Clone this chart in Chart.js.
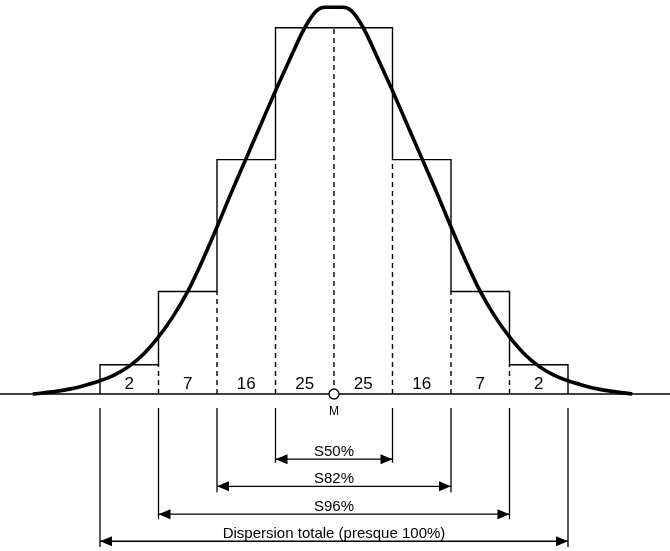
<!DOCTYPE html>
<html>
<head>
<meta charset="utf-8">
<script src="https://cdn.jsdelivr.net/npm/chart.js@4"></script>
<style>
  html, body { margin: 0; padding: 0; background: #fff; }
  canvas { display: block; }
</style>
</head>
<body>
<canvas id="chart" width="670" height="551"></canvas>
<script>
// bin edges (one unit = one bin, M = 0) and share of each bin in %
const edges = [-4, -3, -2, -1, 0, 1, 2, 3, 4];
const binPercents = [2, 7, 16, 25, 25, 16, 7, 2];
const binLabels = ['2', '7', '16', '25', '25', '16', '7', '2'];

// the bell curve
const curveX = [-5.15, -4.75, -4.5, -4.25, -4, -3.75, -3.5, -3.25, -3, -2.75, -2.5, -2.25, -2, -1.75, -1.5, -1.25, -1, -0.75, -0.5, -0.3, -0.15, 0,
                0.15, 0.3, 0.5, 0.75, 1, 1.25, 1.5, 1.75, 2, 2.25, 2.5, 2.75, 3, 3.25, 3.5, 3.75, 4, 4.25, 4.5, 4.75, 5.1];
const curveY = [0, 0.18, 0.35, 0.6, 0.9, 1.3, 1.9, 2.75, 3.9, 5.3, 7.0, 9.1, 11.4, 13.8, 16.1, 18.4, 20.7, 22.9, 25.0, 26.15, 26.4, 26.4,
                26.4, 26.15, 25.0, 22.9, 20.7, 18.4, 16.1, 13.8, 11.4, 9.1, 7.0, 5.3, 3.9, 2.75, 1.9, 1.3, 0.9, 0.6, 0.35, 0.18, 0];

const meanLabel = 'M';
const spanLabels = ['S50%', 'S82%', 'S96%', 'Dispersion totale (presque 100%)'];
const spanHalfWidths = [1, 2, 3, 4];

// layout of the annotations under the axis, in y units
const spanArrowY = [-4.45, -6.3, -8.2, -10.05];
const spanLineBottom = [-4.7, -6.7, -8.55, -10.45];
const spanLineTop = -0.95;
const binLabelY = 0.68;
const meanLabelY = -1.23;

const FONT = "'Liberation Sans', Arial, sans-serif";

// histogram outline
const stepPoints = [{ x: edges[0], y: 0 }];
binPercents.forEach((p, i) => {
    stepPoints.push({ x: edges[i], y: p });
    stepPoints.push({ x: edges[i + 1], y: p });
});
stepPoints.push({ x: edges[edges.length - 1], y: 0 });

const lineStyle = {
    showLine: true,
    pointRadius: 0,
    borderColor: '#000',
    fill: false
};

const datasets = [];

// mean marker
datasets.push({
    data: [{ x: 0, y: 0 }],
    pointRadius: 5,
    pointBackgroundColor: '#fff',
    pointBorderColor: '#000',
    pointBorderWidth: 1.3
});

// curve
datasets.push({
    ...lineStyle,
    data: curveX.map((x, i) => ({ x: x, y: curveY[i] })),
    borderWidth: 3.6,
    cubicInterpolationMode: 'monotone'
});

datasets.push({ ...lineStyle, data: stepPoints, borderWidth: 1.4 });

// dashed dividers inside the histogram
for (let i = 1; i < edges.length - 1; i++) {
    datasets.push({
        ...lineStyle,
        data: [{ x: edges[i], y: 0 }, { x: edges[i], y: Math.min(binPercents[i - 1], binPercents[i]) }],
        borderWidth: 1.4,
        borderDash: [5, 4]
    });
}

// axis line
datasets.push({ ...lineStyle, data: [{ x: -6, y: 0 }, { x: 6, y: 0 }], borderWidth: 1.4 });

// span brackets under the axis
spanHalfWidths.forEach((h, k) => {
    [-h, h].forEach(x => {
        datasets.push({
            ...lineStyle,
            data: [{ x: x, y: spanLineTop }, { x: x, y: spanLineBottom[k] }],
            borderWidth: 1.3
        });
    });
    datasets.push({
        ...lineStyle,
        data: [{ x: -h, y: spanArrowY[k] }, { x: h, y: spanArrowY[k] }],
        borderWidth: 1.3
    });
});

const annotations = {
    id: 'annotations',
    afterDatasetsDraw(chart) {
        const ctx = chart.ctx;
        const xs = chart.scales.x;
        const ys = chart.scales.y;
        ctx.save();
        ctx.fillStyle = '#000';

        // arrow heads
        spanHalfWidths.forEach((h, k) => {
            const y = ys.getPixelForValue(spanArrowY[k]);
            [-1, 1].forEach(dir => {
                const tip = xs.getPixelForValue(dir * h);
                ctx.beginPath();
                ctx.moveTo(tip, y);
                ctx.lineTo(tip - dir * 12, y - 5);
                ctx.lineTo(tip - dir * 12, y + 5);
                ctx.closePath();
                ctx.fill();
            });
        });

        // bin percentages
        ctx.font = '17px ' + FONT;
        ctx.textAlign = 'center';
        ctx.textBaseline = 'middle';
        binLabels.forEach((t, i) => {
            const cx = xs.getPixelForValue((edges[i] + edges[i + 1]) / 2);
            ctx.fillText(t, cx, ys.getPixelForValue(binLabelY));
        });

        ctx.font = '12px ' + FONT;
        ctx.fillText(meanLabel, xs.getPixelForValue(0), ys.getPixelForValue(meanLabelY));

        // span labels
        ctx.font = '15px ' + FONT;
        ctx.textBaseline = 'alphabetic';
        spanLabels.forEach((t, k) => {
            ctx.fillText(t, xs.getPixelForValue(0), ys.getPixelForValue(spanArrowY[k]) - 3);
        });
        ctx.restore();
    }
};

new Chart(document.getElementById('chart').getContext('2d'), {
    type: 'scatter',
    data: { datasets: datasets },
    options: {
        responsive: false,
        animation: false,
        layout: { padding: 0, autoPadding: false },
        plugins: {
            legend: { display: false },
            tooltip: { enabled: false }
        },
        scales: {
            x: { type: 'linear', min: -334 / 58.5, max: 336 / 58.5, display: false },
            y: { type: 'linear', min: -157 / 14.65, max: 394 / 14.65, display: false }
        }
    },
    plugins: [annotations]
});
</script>
</body>
</html>
